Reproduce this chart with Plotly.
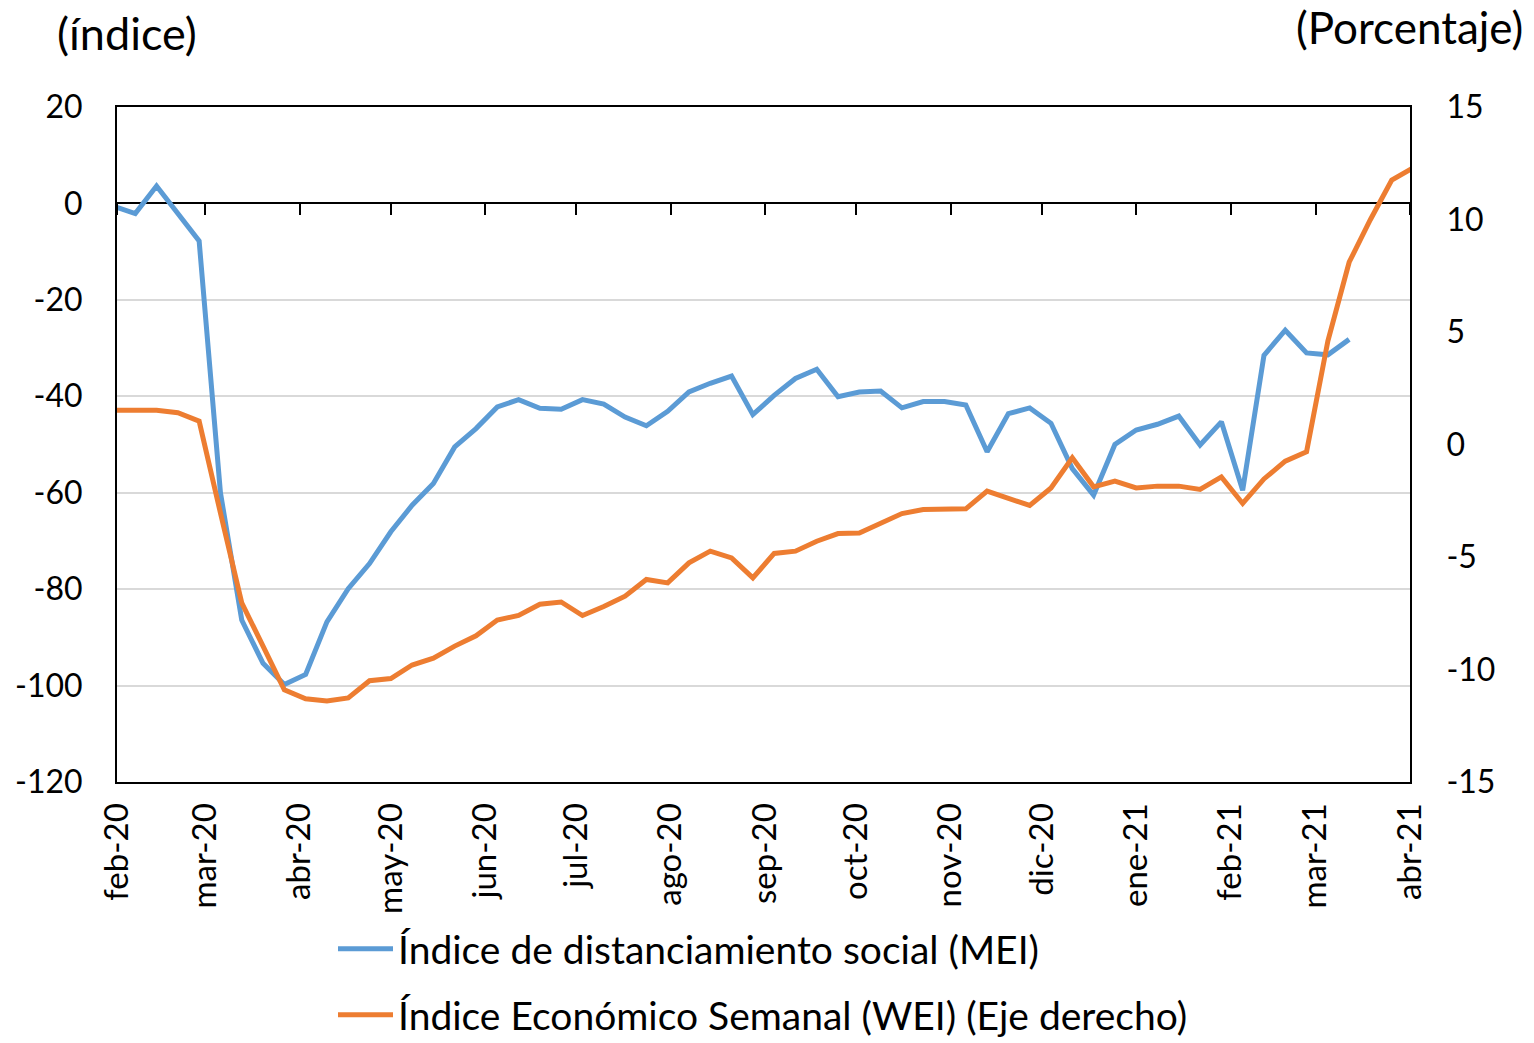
import pandas as pd
import plotly.graph_objects as go

# Weekly dates (Fridays)
weeks = pd.date_range("2020-01-31", periods=62, freq="7D")

mei_values = [
    -0.6, -2.1, 3.6, -2.0, -7.8, -60.0, -86.4, -95.4, -99.8, -97.7,
    -86.8, -79.9, -74.7, -68.1, -62.6, -58.1, -50.5, -46.7, -42.2, -40.7,
    -42.5, -42.7, -40.7, -41.6, -44.3, -46.1, -43.1, -39.1, -37.3, -35.8,
    -43.8, -39.8, -36.3, -34.4, -40.1, -39.1, -38.9, -42.4, -41.1, -41.1,
    -41.8, -51.5, -43.6, -42.4, -45.6, -55.0, -60.5, -50.0, -47.0, -45.8,
    -44.1, -50.1, -45.3, -59.5, -31.5, -26.3, -31.0, -31.4, -28.2,
]

wei_values = [
    1.52, 1.52, 1.52, 1.41, 1.04, -3.04, -7.04, -8.96, -10.9, -11.3,
    -11.4, -11.26, -10.5, -10.4, -9.8, -9.5, -8.96, -8.5, -7.8, -7.6,
    -7.1, -7.0, -7.6, -7.2, -6.74, -6.0, -6.15, -5.26, -4.74, -5.04,
    -5.93, -4.84, -4.74, -4.3, -3.96, -3.93, -3.48, -3.07, -2.89, -2.89,
    -2.86, -2.07, -2.41, -2.71, -1.93, -0.59, -1.88, -1.63, -1.93, -1.85,
    -1.85, -2.0, -1.44, -2.62, -1.53, -0.74, -0.32, 4.6, 8.1, 10.0,
    11.75, 12.3,
]

month_ticks = pd.date_range("2020-02-01", "2021-04-01", freq="MS")
month_labels = ["feb-20", "mar-20", "abr-20", "may-20", "jun-20", "jul-20",
                "ago-20", "sep-20", "oct-20", "nov-20", "dic-20", "ene-21",
                "feb-21", "mar-21", "abr-21"]

left_ticks = [20, 0, -20, -40, -60, -80, -100, -120]
left_labels = ["20", "0", "-20", "-40", "-60", "-80", "-100", "-120"]
right_ticks = [15, 10, 5, 0, -5, -10, -15]
right_labels = ["15", "10", "5", "0", "-5", "-10", "-15"]

name_mei = "Índice de distanciamiento social (MEI)"
name_wei = "Índice Económico Semanal (WEI) (Eje derecho)"

BLUE = "#5B9BD5"
ORANGE = "#ED7D31"
FONT = "Lato"

W, H = 1534, 1043
L, T = 117, 107
R = W - 1410
B = H - 782
plot_w = W - L - R
plot_h = H - T - B

def px_x(px):
    return (px - L) / plot_w

def px_y(py):
    return (H - B - py) / plot_h

fig = go.Figure()
fig.add_trace(go.Scatter(
    x=weeks[:len(mei_values)], y=mei_values, name=name_mei, mode="lines",
    line=dict(color=BLUE, width=5), xaxis="x", yaxis="y", legend="legend",
))
fig.add_trace(go.Scatter(
    x=weeks[:len(wei_values)], y=wei_values, name=name_wei, mode="lines",
    line=dict(color=ORANGE, width=5), xaxis="x2", yaxis="y2", legend="legend2",
))

xrange = ["2020-02-01", "2021-04-01"]

fig.update_layout(
    width=W, height=H,
    margin=dict(l=L, r=R, t=T, b=B, autoexpand=False),
    paper_bgcolor="white", plot_bgcolor="white",
    font=dict(family=FONT, color="#000000", size=32),
    xaxis=dict(
        type="date", range=xrange,
        tickvals=list(month_ticks), ticktext=month_labels,
        tickangle=-90, ticks="", showgrid=False,
        showline=True, linecolor="black", linewidth=2, mirror=True,
        tickfont=dict(size=33, family=FONT), ticklabelstandoff=6,
        zeroline=False, automargin=False,
    ),
    xaxis2=dict(
        type="date", range=xrange, overlaying="x", anchor="free",
        position=120 / 140, side="bottom",
        tickvals=list(month_ticks), showticklabels=False,
        ticks="outside", ticklen=11, tickwidth=2, tickcolor="black",
        showgrid=False, showline=False, zeroline=False, automargin=False,
    ),
    yaxis=dict(
        range=[-120, 20], tickvals=left_ticks, ticktext=left_labels,
        showgrid=True, gridcolor="#d9d9d9", gridwidth=2,
        zeroline=True, zerolinecolor="black", zerolinewidth=2,
        showline=True, linecolor="black", linewidth=2,
        ticks="", tickfont=dict(size=32, family=FONT), ticklabelstandoff=26,
        automargin=False,
    ),
    yaxis2=dict(
        range=[-15, 15], tickvals=right_ticks, ticktext=right_labels,
        overlaying="y", side="right", anchor="x",
        showgrid=False, zeroline=False,
        showline=True, linecolor="black", linewidth=2,
        ticks="", tickfont=dict(size=32, family=FONT), ticklabelstandoff=28,
        automargin=False,
    ),
    legend=dict(
        x=px_x(333), y=px_y(949), xanchor="left", yanchor="middle",
        font=dict(size=39, family=FONT), itemwidth=55, bgcolor="rgba(0,0,0,0)",
        borderwidth=0, tracegroupgap=0,
    ),
    legend2=dict(
        x=px_x(333), y=px_y(1015), xanchor="left", yanchor="middle",
        font=dict(size=39, family=FONT), itemwidth=55, bgcolor="rgba(0,0,0,0)",
        borderwidth=0, tracegroupgap=0,
    ),
    showlegend=True,
    annotations=[
        dict(text="(índice)", xref="paper", yref="paper",
             x=px_x(127), y=px_y(33), xanchor="center", yanchor="middle",
             showarrow=False, font=dict(size=45, family=FONT)),
        dict(text="(Porcentaje)", xref="paper", yref="paper",
             x=px_x(1525), y=px_y(27), xanchor="right", yanchor="middle",
             showarrow=False, font=dict(size=44, family=FONT)),
    ],
)

fig.write_html(
    "out.html",
    config={"displayModeBar": False},
    post_script="document.body.style.margin='0';document.body.style.overflow='hidden';",
)
